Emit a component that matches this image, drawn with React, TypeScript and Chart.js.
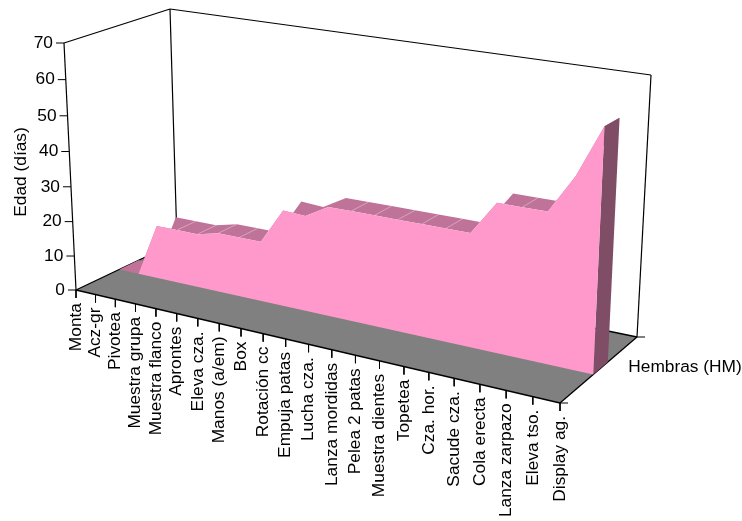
import React, { useEffect, useRef } from "react";
import { Chart, registerables } from "chart.js";

Chart.register(...registerables);

// Behaviours along the category axis
const categories = [
  "Monta", "Acz-gr", "Pivotea", "Muestra grupa", "Muestra flanco", "Aprontes",
  "Eleva cza.", "Manos (a/em)", "Box", "Rotación cc", "Empuja patas", "Lucha cza.",
  "Lanza mordidas", "Pelea 2 patas", "Muestra dientes", "Topetea", "Cza. hor.",
  "Sacude cza.", "Cola erecta", "Lanza zarpazo", "Eleva tso.", "Display ag.",
];
// Age (days) at which each behaviour appears in females
const edadHembras = [
  0, 0, 15.5, 15.5, 15.5, 17, 17, 17, 27, 26.6, 30.3, 30.3, 30.3, 30.3, 30.3, 30.3, 30.3, 39.3, 39.3, 39.3, 49.3, 62.5,
];
const yTicks = [0, 10, 20, 30, 40, 50, 60, 70];
const yMax = 70;
const seriesName = "Hembras (HM)";
const yTitle = "Edad (días)";

type Pt = { x: number; y: number };

const FONT = '17.33px "Liberation Sans", Arial, sans-serif';
const PINK = "#FF99CC";
const PINK_TOP = "#BF7399";
const PINK_SIDE = "#804D66";
const FLOOR = "#808080";

// Corners in canvas space: front-left, front-right, back-right, back-left
const floorQuad: Pt[] = [
  { x: 76, y: 290 }, { x: 560, y: 403 }, { x: 637, y: 337 }, { x: 177, y: 242 },
];
// Plane at the top of the value axis, used to project the series
const topQuad: Pt[] = [
  { x: 64, y: 43 }, { x: 571.7, y: 112.8 }, { x: 651.5, y: 71.5 }, { x: 170.1, y: 10.5 },
];
// Upper ends of the three drawn wall edges: left, back, right
const wallTops: Pt[] = [{ x: 64, y: 43 }, { x: 170, y: 9 }, { x: 651, y: 75 }];
// Depth band occupied by the single series
const DEPTH_FRONT = 0.41;
const DEPTH_BACK = 0.6;
const HEIGHT_PERSPECTIVE = -0.043;

// Unit square to quadrilateral homography
function homography(q: Pt[]) {
  const [p0, p1, p2, p3] = q;
  const dx1 = p1.x - p2.x, dy1 = p1.y - p2.y;
  const dx2 = p3.x - p2.x, dy2 = p3.y - p2.y;
  const sx = p0.x - p1.x + p2.x - p3.x, sy = p0.y - p1.y + p2.y - p3.y;
  const den = dx1 * dy2 - dx2 * dy1;
  const g = (sx * dy2 - dx2 * sy) / den;
  const h = (dx1 * sy - sx * dy1) / den;
  const a = p1.x - p0.x + g * p1.x, b = p3.x - p0.x + h * p3.x;
  const d = p1.y - p0.y + g * p1.y, e = p3.y - p0.y + h * p3.y;
  return (u: number, v: number): Pt => {
    const w = g * u + h * v + 1;
    return { x: (a * u + b * v + p0.x) / w, y: (d * u + e * v + p0.y) / w };
  };
}

const onFloor = homography(floorQuad);
const onTop = homography(topQuad);

// Projects (category index, depth, value) into canvas space
function project(index: number, depth: number, value: number): Pt {
  const u = index / (categories.length - 1);
  const h = value / yMax;
  const t = (h * (1 + HEIGHT_PERSPECTIVE)) / (1 + HEIGHT_PERSPECTIVE * h);
  const a = onFloor(u, depth);
  const b = onTop(u, depth);
  return { x: a.x + (b.x - a.x) * t, y: a.y + (b.y - a.y) * t };
}

const last = categories.length - 1;
const indices = categories.map((_, i) => i);

const frontFace: Pt[] = [
  ...indices.map((i) => project(i, DEPTH_FRONT, edadHembras[i])),
  project(last, DEPTH_FRONT, 0),
  project(0, DEPTH_FRONT, 0),
];
const topBand: Pt[] = [
  ...indices.map((i) => project(i, DEPTH_BACK, edadHembras[i])),
  ...indices.slice().reverse().map((i) => project(i, DEPTH_FRONT, edadHembras[i])),
];
const endCap: Pt[] = [
  project(last, DEPTH_FRONT, 0),
  project(last, DEPTH_BACK, 0),
  project(last, DEPTH_BACK, edadHembras[last]),
  project(last, DEPTH_FRONT, edadHembras[last]),
];
// Faint joints between neighbouring facets on the nearly flat stretches
const joints: Pt[][] = indices
  .filter((i) => i > 0 && i < last && edadHembras[i] > 0
    && Math.abs(edadHembras[i] - edadHembras[i - 1]) < 3
    && Math.abs(edadHembras[i + 1] - edadHembras[i]) < 3)
  .map((i) => [project(i, DEPTH_FRONT, edadHembras[i]), project(i, DEPTH_BACK, edadHembras[i])]);

const [fl, fr, br, bl] = floorQuad;
const [wl, wb, wr] = wallTops;

const frameLines: Pt[][] = [[wl, fl], [wl, wb], [wb, bl], [wb, wr], [wr, br]];
const floorLines: Pt[][] = [[fl, fr], [fr, br], [br, bl], [bl, fl]];
const yTickLines: Pt[][] = yTicks.map((t) => {
  const p = project(0, 0, t);
  return [p, { x: p.x - 8, y: p.y }];
});
const xTickLines: Pt[][] = indices.map((i) => {
  const p = project(i, 0, 0);
  return [p, { x: p.x, y: p.y + 8 }];
});
const depthTickLines: Pt[][] = [fr, br].map((p) => [p, { x: p.x + 8, y: p.y }]);

const polygon = (data: Pt[], color: string) => ({
  data,
  showLine: false,
  pointRadius: 0,
  polygonFill: color,
});
const stroke = (data: Pt[], color: string, width: number) => ({
  data,
  showLine: true,
  borderColor: color,
  borderWidth: width,
  pointRadius: 0,
  tension: 0,
  fill: false,
});

// Fills a dataset's points as a closed shape before its own line is drawn
const polygonPlugin = {
  id: "polygonFill",
  beforeDatasetDraw(chart: any, args: any) {
    const ds = chart.data.datasets[args.index];
    if (!ds.polygonFill) return;
    const ctx = chart.ctx;
    ctx.save();
    ctx.fillStyle = ds.polygonFill;
    ctx.beginPath();
    args.meta.data.forEach((el: any, i: number) => {
      if (i === 0) ctx.moveTo(el.x, el.y);
      else ctx.lineTo(el.x, el.y);
    });
    ctx.closePath();
    ctx.fill();
    ctx.restore();
  },
};

// Axis text placed through the chart's scales
const labelsPlugin = {
  id: "boxLabels",
  afterDraw(chart: any) {
    const { ctx, scales } = chart;
    const px = (p: Pt) => ({ x: scales.x.getPixelForValue(p.x), y: scales.y.getPixelForValue(p.y) });
    ctx.save();
    ctx.fillStyle = "#000";
    ctx.font = FONT;

    ctx.textAlign = "right";
    ctx.textBaseline = "middle";
    yTicks.forEach((t) => {
      const p = px(project(0, 0, t));
      ctx.fillText(String(t), p.x - 11, p.y);
    });

    categories.forEach((label, i) => {
      const p = px(project(i, 0, 0));
      ctx.save();
      ctx.translate(p.x, p.y + 13);
      ctx.rotate(-Math.PI / 2);
      ctx.fillText(label, 0, 0);
      ctx.restore();
    });

    ctx.save();
    ctx.translate(21, 172);
    ctx.rotate(-Math.PI / 2);
    ctx.textAlign = "center";
    ctx.fillText(yTitle, 0, 0);
    ctx.restore();

    const mid = px(project(last, 0.5, 0));
    ctx.textAlign = "left";
    ctx.fillText(seriesName, mid.x + 28, mid.y - 1);
    ctx.restore();
  },
};

export default function App() {
  const ref = useRef<HTMLCanvasElement>(null);

  useEffect(() => {
    const layers = [
      ...frameLines.map((l) => stroke(l, "#000", 1.2)),
      ...yTickLines.map((l) => stroke(l, "#000", 1)),
      polygon(floorQuad, FLOOR),
      ...floorLines.map((l) => stroke(l, "#000", 1.3)),
      ...xTickLines.map((l) => stroke(l, "#000", 1)),
      ...depthTickLines.map((l) => stroke(l, "#000", 1)),
      polygon(topBand, PINK_TOP),
      ...joints.map((l) => stroke(l, "rgba(255,255,255,0.35)", 1)),
      polygon(endCap, PINK_SIDE),
      polygon(frontFace, PINK),
    ];
    // Later layers paint over earlier ones
    const datasets = layers.map((d, i) => ({ ...d, order: -i, clip: false }));

    const chart = new Chart(ref.current!, {
      type: "scatter",
      data: { datasets } as any,
      options: {
        animation: false,
        responsive: false,
        devicePixelRatio: 1,
        events: [],
        layout: { padding: 0 },
        plugins: { legend: { display: false }, tooltip: { enabled: false } },
        scales: {
          x: { type: "linear", min: 0, max: 742, display: false },
          y: { type: "linear", min: 0, max: 521, reverse: true, display: false },
        },
      },
      plugins: [polygonPlugin, labelsPlugin],
    });
    return () => chart.destroy();
  }, []);

  return (
    <div style={{ position: "fixed", left: 0, top: 0, width: 742, height: 521, background: "#fff" }}>
      <canvas ref={ref} width={742} height={521} style={{ display: "block" }} />
    </div>
  );
}
